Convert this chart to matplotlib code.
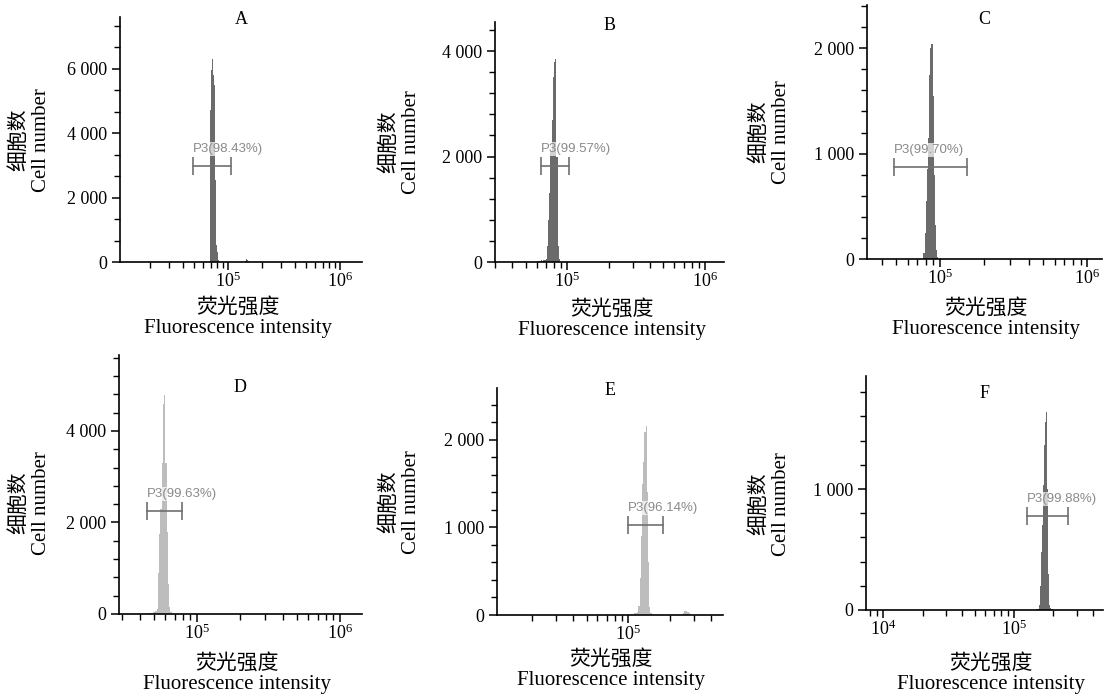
import numpy as np
import matplotlib
matplotlib.use("Agg")
import matplotlib.pyplot as plt
from matplotlib.ticker import MultipleLocator, FuncFormatter, LogLocator, NullFormatter

plt.rcParams['font.family'] = ['Liberation Serif', 'Noto Sans CJK SC', 'DejaVu Sans']
plt.rcParams['mathtext.fontset'] = 'custom'
plt.rcParams['mathtext.rm'] = 'Liberation Serif'

# ---------------- data (log10 of first bin edge, bin width in log10, counts) ----------------
panels = ['A', 'B', 'C', 'D', 'E', 'F']

a_start, a_width = 4.84375, 0.00893
a_counts = [4700, 5950, 6300, 5800, 5500, 2540, 530, 300, 60]
a_bump_start = 5.143
a_bump = [15, 45, 80, 50, 20]

b_start, b_width = 4.783, 0.0087
b_counts = [15, 25, 20, 30, 25, 35, 40,
            50, 300, 800, 1300, 2100, 2700, 3500, 3800, 3850, 2000, 300, 50]

c_start, c_width = 4.886, 0.00785
c_counts = [60, 250, 550, 850, 1150, 1750, 2000, 2040, 1550, 800, 320, 90, 20]

d_start, d_width = 4.648, 0.00874
d_counts = [15, 20, 25, 20, 30, 40, 50, 60,
            100, 900, 1750, 2300, 3300, 4600, 4780, 3300, 1800, 650, 150, 40]

e_start, e_width = 5.005, 0.0087
e_counts = [10, 12, 15, 15, 20, 20, 25, 30,
            100, 420, 900, 1500, 1750, 2090, 2160, 1400, 600, 90, 20]
e_bump_start = 5.386
e_bump = [10, 25, 40, 50, 45, 35, 20, 10]

f_start, f_width = 5.1656, 0.00763
f_counts = [8, 10, 12,
            40, 200, 480, 700, 1030, 1360, 1550, 1636, 1000, 300, 40,
            15, 10, 8]

gate_lo = [4.87e4, 6.48e4, 4.86e4, 4.47e4, 1.0e5, 1.257e5]
gate_hi = [1.064e5, 1.034e5, 1.527e5, 7.85e4, 1.79e5, 2.58e5]
gate_y = [2977, 1820, 872, 2251, 1026, 777]
gate_txt = ['P3(98.43%)', 'P3(99.57%)', 'P3(99.70%)', 'P3(99.63%)', 'P3(96.14%)', 'P3(99.88%)']

x_lo = [1.087e4, 3.0e4, 3.18e4, 2.85e4, 1.12e4, 7.4e3]
x_hi = [1.57e6, 1.374e6, 1.26e6, 1.43e6, 4.88e5, 4.78e5]
y_top = [7600, 4550, 2410, 5660, 2590, 1934]
y_major = [2000, 2000, 1000, 2000, 1000, 1000]
y_minor = [2000 / 3, 400, 200, 400, 200, 200]

ylabel = '细胞数\nCell number'
xlabel = '荧光强度\nFluorescence intensity'

# ---------------- layout (pixels) ----------------
W, H = 1111, 697
boxes = [(120, 17, 362, 262), (495, 22, 724, 262), (867, 5, 1102, 259),
         (119, 355, 362, 614), (497, 388, 723, 615), (866, 376, 1103, 610)]
title_y = [0.988, 0.9875, 0.941, 0.873, 0.991, 0.927]
ylab_pos = [(30, 140), (400, 142), (770, 132), (30, 503), (400, 502), (770, 504)]
xlab_pos = [(238, 318), (612, 320), (986, 319), (237, 674), (611, 670), (991, 674)]

dark = '#6b6b6b'
light = '#bdbdbd'
fills = [dark, dark, dark, light, light, dark]

hists = [
    [(a_start, a_width, a_counts), (a_bump_start, a_width, a_bump)],
    [(b_start, b_width, b_counts)],
    [(c_start, c_width, c_counts)],
    [(d_start, d_width, d_counts)],
    [(e_start, e_width, e_counts), (e_bump_start, e_width, e_bump)],
    [(f_start, f_width, f_counts)],
]


def thousands(v, pos):
    v = int(round(v))
    return f"{v:,}".replace(',', ' ')


fig = plt.figure(figsize=(W / 100, H / 100), dpi=100)

for i, name in enumerate(panels):
    l, t, r, b = boxes[i]
    ax = fig.add_axes([l / W, 1 - b / H, (r - l) / W, (b - t) / H])

    for start, width, counts in hists[i]:
        edges = 10 ** (start + width * np.arange(len(counts) + 1))
        ax.stairs(counts, edges, fill=True, color=fills[i], lw=0.8)

    # gate marker
    ax.plot([gate_lo[i], gate_hi[i]], [gate_y[i], gate_y[i]], color='#707070', lw=1.2)
    ax.plot([gate_lo[i], gate_hi[i]], [gate_y[i], gate_y[i]], ls='none', marker='|',
            ms=13, mew=1.2, color='#707070')
    ax.annotate(gate_txt[i], (gate_lo[i], gate_y[i]), xytext=(0, 8), textcoords='offset points',
                ha='left', va='bottom', fontsize=9.5, color='#8a8a8a', family='Liberation Sans',
                bbox=dict(boxstyle='square,pad=0.1', fc='white', ec='none', alpha=0.7))

    ax.set_xscale('log')
    ax.set_xlim(x_lo[i], x_hi[i])
    ax.set_ylim(0, y_top[i])
    ax.xaxis.set_major_locator(LogLocator(base=10, numticks=10))
    ax.xaxis.set_minor_locator(LogLocator(base=10, subs=np.arange(2, 10), numticks=20))
    ax.xaxis.set_minor_formatter(NullFormatter())
    ax.yaxis.set_major_locator(MultipleLocator(y_major[i]))
    ax.yaxis.set_minor_locator(MultipleLocator(y_minor[i]))
    ax.yaxis.set_major_formatter(FuncFormatter(thousands))

    for s in ['top', 'right']:
        ax.spines[s].set_visible(False)
    for s in ['left', 'bottom']:
        ax.spines[s].set_linewidth(1.2)
    ax.tick_params(which='major', length=6, width=1.1, labelsize=13)
    ax.tick_params(which='minor', length=4, width=1.0)
    ax.tick_params(axis='x', which='major', pad=1)
    ax.tick_params(axis='y', which='major', pad=3)

    ax.text(0.5, title_y[i], name, transform=ax.transAxes, ha='center', va='center', fontsize=13)

    yx, yy = ylab_pos[i]
    fig.text(yx / W, 1 - yy / H, ylabel, rotation=90, ha='center', va='center',
             multialignment='center', fontsize=15, linespacing=1.2)
    xx, xy = xlab_pos[i]
    fig.text(xx / W, 1 - xy / H, xlabel, ha='center', va='center',
             multialignment='center', fontsize=15, linespacing=1.1)

fig.savefig('out.png', dpi=100)
